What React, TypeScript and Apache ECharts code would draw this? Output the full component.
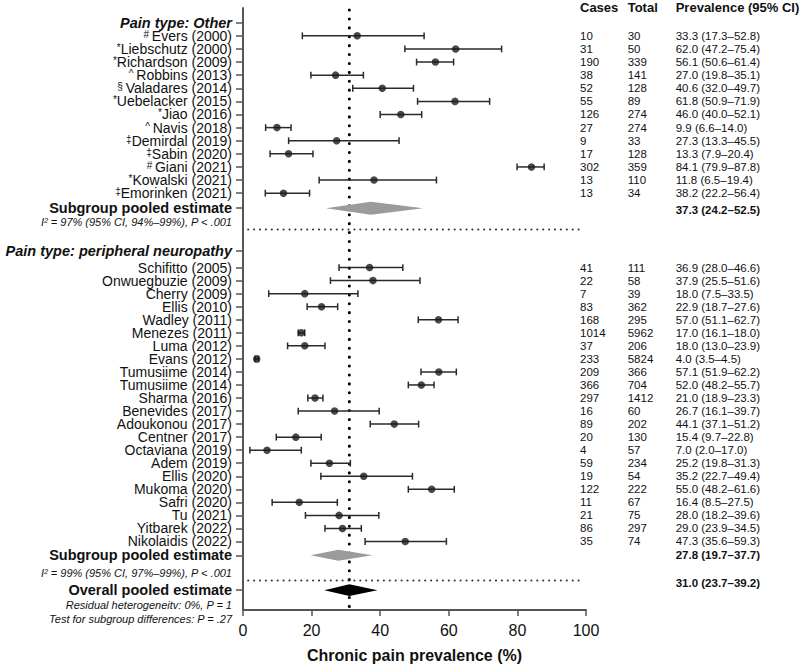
import React, { useEffect, useRef } from 'react';
import * as echarts from 'echarts';

const FONT = '"Liberation Sans", Arial, Helvetica, sans-serif';

// ---------- Data: Pain type Other ----------
const otherNames = ['Evers (2000)', 'Liebschutz (2000)', 'Richardson (2009)', 'Robbins (2013)', 'Valadares (2014)', 'Uebelacker (2015)', 'Jiao (2016)', 'Navis (2018)', 'Demirdal (2019)', 'Sabin (2020)', 'Giani (2021)', 'Kowalski (2021)', 'Emorinken (2021)'];
const otherMarks = ['# ', '*', '*', '^ ', '§ ', '*', '*', '^ ', '‡', '‡', '# ', '*', '‡'];
const otherCases = [10, 31, 190, 38, 52, 55, 126, 27, 9, 17, 302, 13, 13];
const otherTotal = [30, 50, 339, 141, 128, 89, 274, 274, 33, 128, 359, 110, 34];
const otherPrevText = ['33.3 (17.3–52.8)', '62.0 (47.2–75.4)', '56.1 (50.6–61.4)', '27.0 (19.8–35.1)', '40.6 (32.0–49.7)', '61.8 (50.9–71.9)', '46.0 (40.0–52.1)', '9.9 (6.6–14.0)', '27.3 (13.3–45.5)', '13.3 (7.9–20.4)', '84.1 (79.9–87.8)', '11.8 (6.5–19.4)', '38.2 (22.2–56.4)'];
// plotted estimates as drawn in the figure
const otherEst = [33.3, 62.0, 56.1, 27.0, 40.6, 61.8, 46.0, 9.9, 27.3, 13.3, 84.1, 38.2, 11.8];
const otherLo = [17.3, 47.2, 50.6, 19.8, 32.0, 50.9, 40.0, 6.6, 13.3, 7.9, 79.9, 22.2, 6.5];
const otherHi = [52.8, 75.4, 61.4, 35.1, 49.7, 71.9, 52.1, 14.0, 45.5, 20.4, 87.8, 56.4, 19.4];

// ---------- Data: Pain type peripheral neuropathy ----------
const pnNames = ['Schifitto (2005)', 'Onwuegbuzie (2009)', 'Cherry (2009)', 'Ellis (2010)', 'Wadley (2011)', 'Menezes (2011)', 'Luma (2012)', 'Evans (2012)', 'Tumusiime (2014)', 'Tumusiime (2014)', 'Sharma (2016)', 'Benevides (2017)', 'Adoukonou (2017)', 'Centner (2017)', 'Octaviana (2019)', 'Adem (2019)', 'Ellis (2020)', 'Mukoma (2020)', 'Safri (2020)', 'Tu (2021)', 'Yitbarek (2022)', 'Nikolaidis (2022)'];
const pnCases = [41, 22, 7, 83, 168, 1014, 37, 233, 209, 366, 297, 16, 89, 20, 4, 59, 19, 122, 11, 21, 86, 35];
const pnTotal = [111, 58, 39, 362, 295, 5962, 206, 5824, 366, 704, 1412, 60, 202, 130, 57, 234, 54, 222, 67, 75, 297, 74];
const pnEst = [36.9, 37.9, 18.0, 22.9, 57.0, 17.0, 18.0, 4.0, 57.1, 52.0, 21.0, 26.7, 44.1, 15.4, 7.0, 25.2, 35.2, 55.0, 16.4, 28.0, 29.0, 47.3];
const pnLo = [28.0, 25.5, 7.5, 18.7, 51.1, 16.1, 13.0, 3.5, 51.9, 48.2, 18.9, 16.1, 37.1, 9.7, 2.0, 19.8, 22.7, 48.2, 8.5, 18.2, 23.9, 35.6];
const pnHi = [46.6, 51.6, 33.5, 27.6, 62.7, 18.0, 23.9, 4.5, 62.2, 55.7, 23.3, 39.7, 51.2, 22.8, 17.0, 31.3, 49.4, 61.6, 27.5, 39.6, 34.5, 59.3];

// ---------- Pooled estimates ----------
const pooledNames = ['Subgroup pooled estimate', 'Subgroup pooled estimate', 'Overall pooled estimate'];
const pooledEst = [37.3, 27.8, 31.0];
const pooledLo = [24.2, 19.7, 23.7];
const pooledHi = [52.5, 37.7, 39.2];
const pooledColors = ['#9b9b9b', '#9b9b9b', '#000000'];
const heteroText = ['I² = 97% (95% CI, 94%–99%), P < .001', 'I² = 99% (95% CI, 97%–99%), P < .001'];
const noteText = ['Residual heterogeneitv: 0%, P = 1', 'Test for subgroup differences: P = .27'];
const headings = ['Pain type: Other', 'Pain type: peripheral neuropathy'];
const tableHeader = ['Cases', 'Total', 'Prevalence (95% CI)'];
const xTicks = { min: 0, max: 100, interval: 20 };
const xTitle = 'Chronic pain prevalence (%)';

// ---------- Layout (row positions in px below grid top) ----------
const GRID_TOP = 8;
const GRID_H = 606;
const OTHER_HEAD = 14.7;
const OTHER_FIRST = 28;
const OTHER_STEP = 13.2;
const SUB1 = 201.5;
const HET1 = 215;
const SEP1 = 223;
const PN_HEAD = 244.3;
const PN_FIRST = 261.3;
const PN_STEP = 13.13;
const SUB2 = 551;
const HET2 = 569;
const SEP2 = 576.3;
const OVERALL = 586;
const OVERALL_TEXT = 579;
const NOTE_Y = [601, 615];
const HEADER_Y = -1;
const DIAMOND_HALF = [6.5, 5.5, 5.8];

const fmt = (v: number) => v.toFixed(1);

const RICH = {
  n: { fontSize: 14, color: '#111', fontFamily: FONT, lineHeight: 13 },
  s: { fontSize: 10, color: '#111', fontFamily: FONT, lineHeight: 9, verticalAlign: 'top' },
  h: { fontSize: 14.5, color: '#111', fontFamily: FONT, fontWeight: 'bold', fontStyle: 'italic', lineHeight: 13 },
  b: { fontSize: 14.5, color: '#111', fontFamily: FONT, fontWeight: 'bold', lineHeight: 13 },
  i: { fontSize: 11, color: '#111', fontFamily: FONT, fontStyle: 'italic', lineHeight: 12 },
};

export default function App() {
  const ref = useRef<HTMLDivElement>(null);

  useEffect(() => {
    const chart = echarts.init(ref.current!, null, { renderer: 'svg' });

    const otherY = otherNames.map((_, i) => OTHER_FIRST + OTHER_STEP * i);
    const pnY = pnNames.map((_, i) => PN_FIRST + PN_STEP * i);
    const pooledY = [SUB1, SUB2, OVERALL];

    // left-hand labels
    type Lbl = { y: number; text: string };
    const labels: Lbl[] = [];
    const tickVals: number[] = [];
    const addLabel = (y: number, text: string, tick: boolean) => {
      labels.push({ y, text });
      if (tick) tickVals.push(y);
    };
    addLabel(OTHER_HEAD, `{h|${headings[0]}}`, true);
    otherNames.forEach((n, i) => addLabel(otherY[i], `{s|${otherMarks[i]}}{n|${n}}`, true));
    addLabel(SUB1, `{b|${pooledNames[0]}}`, true);
    addLabel(HET1, `{i|${heteroText[0]}}`, false);
    addLabel(PN_HEAD, `{h|${headings[1]}}`, true);
    pnNames.forEach((n, i) => addLabel(pnY[i], `{n|${n}}`, true));
    addLabel(SUB2, `{b|${pooledNames[1]}}`, true);
    addLabel(HET2, `{i|${heteroText[1]}}`, false);
    addLabel(OVERALL, `{b|${pooledNames[2]}}`, true);
    NOTE_Y.forEach((y, i) => addLabel(y, `{i|${noteText[i]}}`, false));

    // error bars + points
    const studyLo = [...otherLo, ...pnLo];
    const studyHi = [...otherHi, ...pnHi];
    const studyEst = [...otherEst, ...pnEst];
    const studyY = [...otherY, ...pnY];
    const barData = studyY.map((y, i) => [studyLo[i], studyHi[i], y]);
    const dotData = studyY.map((y, i) => [studyEst[i], y]);

    // table rows
    type Row = { y: number; c: string; t: string; p: string; bold: boolean; header?: boolean };
    const rows: Row[] = [];
    rows.push({ y: HEADER_Y, c: tableHeader[0], t: tableHeader[1], p: tableHeader[2], bold: true, header: true });
    otherNames.forEach((_, i) => rows.push({ y: otherY[i], c: String(otherCases[i]), t: String(otherTotal[i]), p: otherPrevText[i], bold: false }));
    rows.push({ y: SUB1 + 1.5, c: '', t: '', p: `${fmt(pooledEst[0])} (${fmt(pooledLo[0])}–${fmt(pooledHi[0])})`, bold: true });
    pnNames.forEach((_, i) => rows.push({ y: pnY[i], c: String(pnCases[i]), t: String(pnTotal[i]), p: `${fmt(pnEst[i])} (${fmt(pnLo[i])}–${fmt(pnHi[i])})`, bold: false }));
    rows.push({ y: SUB2, c: '', t: '', p: `${fmt(pooledEst[1])} (${fmt(pooledLo[1])}–${fmt(pooledHi[1])})`, bold: true });
    rows.push({ y: OVERALL_TEXT, c: '', t: '', p: `${fmt(pooledEst[2])} (${fmt(pooledLo[2])}–${fmt(pooledHi[2])})`, bold: true });

    const option: any = {
      animation: false,
      backgroundColor: '#ffffff',
      textStyle: { fontFamily: FONT },
      grid: { left: 243, right: 214, top: GRID_TOP, height: GRID_H, containLabel: false },
      xAxis: {
        type: 'value',
        min: xTicks.min,
        max: xTicks.max,
        interval: xTicks.interval,
        axisLine: { show: true, onZero: false, lineStyle: { color: '#555', width: 2 } },
        axisTick: { show: true, length: 6, lineStyle: { color: '#555', width: 1.5 } },
        axisLabel: { fontSize: 16, color: '#111', margin: 12, fontFamily: FONT },
        splitLine: { show: false },
        name: xTitle,
        nameLocation: 'middle',
        nameGap: 37,
        nameTextStyle: { fontSize: 16, fontWeight: 'bold', color: '#111', fontFamily: FONT },
      },
      yAxis: {
        type: 'value',
        inverse: true,
        min: 0,
        max: GRID_H,
        axisLine: { show: true, onZero: false, lineStyle: { color: '#555', width: 2 } },
        axisTick: { show: true, length: 7, customValues: tickVals, lineStyle: { color: '#555', width: 1.5 } },
        splitLine: { show: false },
        axisLabel: { show: false },
      },
      series: [
        // vertical reference line at overall estimate
        {
          type: 'line',
          data: [[pooledEst[2], 2], [pooledEst[2], 603]],
          symbol: 'none',
          silent: true,
          lineStyle: { color: '#000', width: 3, type: [0.1, 8.8], cap: 'round' },
          z: 1,
        },
        // separators
        ...[SEP1, SEP2].map((y) => ({
          type: 'line',
          data: [[1.5, y], [99, y]],
          symbol: 'none',
          silent: true,
          lineStyle: { color: '#333', width: 2, type: [0.1, 5.8], cap: 'round' },
          z: 1,
        })),
        // error bars
        {
          type: 'custom',
          silent: true,
          data: barData,
          encode: { x: [0, 1], y: 2 },
          z: 3,
          renderItem: (_p: any, api: any) => {
            const lo = api.value(0), hi = api.value(1), y = api.value(2);
            const a = api.coord([lo, y]);
            const b = api.coord([hi, y]);
            const cap = 3.4;
            const st = { stroke: '#2a2a2a', lineWidth: 1.5 };
            return {
              type: 'group',
              children: [
                { type: 'line', shape: { x1: a[0], y1: a[1], x2: b[0], y2: b[1] }, style: st },
                { type: 'line', shape: { x1: a[0], y1: a[1] - cap, x2: a[0], y2: a[1] + cap }, style: st },
                { type: 'line', shape: { x1: b[0], y1: b[1] - cap, x2: b[0], y2: b[1] + cap }, style: st },
              ],
            };
          },
        },
        // point estimates
        {
          type: 'scatter',
          data: dotData,
          symbol: 'circle',
          symbolSize: 7.5,
          itemStyle: { color: '#1a1a1a' },
          silent: true,
          z: 4,
        },
        // pooled diamonds
        {
          type: 'custom',
          silent: true,
          data: pooledEst.map((e, i) => [e, pooledLo[i], pooledHi[i], pooledY[i]]),
          encode: { x: [0, 1, 2], y: 3 },
          z: 2,
          renderItem: (p: any, api: any) => {
            const e = api.value(0), lo = api.value(1), hi = api.value(2), y = api.value(3);
            const h = DIAMOND_HALF[p.dataIndex];
            const pl = api.coord([lo, y]);
            const pc = api.coord([e, y]);
            const pr = api.coord([hi, y]);
            return {
              type: 'polygon',
              shape: { points: [[pl[0], pl[1]], [pc[0], pc[1] - h], [pr[0], pr[1]], [pc[0], pc[1] + h]] },
              style: { fill: pooledColors[p.dataIndex], stroke: 'none' },
            };
          },
        },
        // left-hand row labels
        {
          type: 'custom',
          silent: true,
          data: labels.map((l) => [0, l.y]),
          encode: { x: 0, y: 1 },
          z: 5,
          renderItem: (p: any, api: any) => {
            const pt = api.coord([0, api.value(1)]);
            return {
              type: 'text',
              x: pt[0] - 11,
              y: pt[1],
              style: {
                text: labels[p.dataIndex].text,
                rich: RICH,
                fill: '#111',
                fontFamily: FONT,
                align: 'right',
                verticalAlign: 'middle',
              },
            };
          },
        },
        // right-hand table
        {
          type: 'custom',
          silent: true,
          data: rows.map((r) => [100, r.y]),
          encode: { x: 0, y: 1 },
          z: 5,
          renderItem: (p: any, api: any) => {
            const r = rows[p.dataIndex];
            const pt = api.coord([100, api.value(1)]);
            const size = r.header ? 13 : 11.5;
            const mk = (dx: number, text: string, bold: boolean) => ({
              type: 'text',
              x: pt[0] + dx,
              y: pt[1],
              style: {
                text,
                fill: '#111',
                fontSize: size,
                fontWeight: bold ? 'bold' : 'normal',
                fontFamily: FONT,
                align: 'left',
                verticalAlign: 'middle',
              },
            });
            const children: any[] = [];
            if (r.c) children.push(mk(-6, r.c, r.header === true));
            if (r.t) children.push(mk(41.7, r.t, r.header === true));
            if (r.p) children.push(mk(89.7, r.p, r.bold));
            return { type: 'group', children };
          },
        },
      ],
    };

    chart.setOption(option);
    return () => chart.dispose();
  }, []);

  return (
    <div
      ref={ref}
      style={{ position: 'fixed', left: 0, top: 0, width: 800, height: 668, background: '#fff' }}
    />
  );
}
